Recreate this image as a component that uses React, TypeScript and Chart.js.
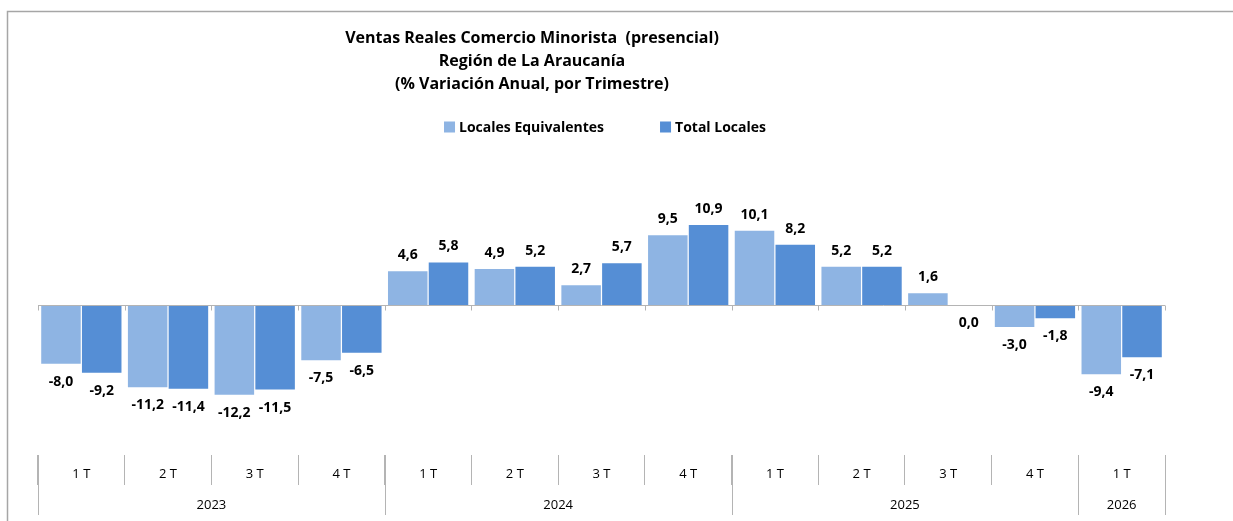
import React, { useEffect, useRef } from 'react';
import { Chart, registerables } from 'chart.js';

Chart.register(...registerables);

const quarters = ['1 T', '2 T', '3 T', '4 T', '1 T', '2 T', '3 T', '4 T', '1 T', '2 T', '3 T', '4 T', '1 T'];
const quarterYears = ['2023', '2023', '2023', '2023', '2024', '2024', '2024', '2024', '2025', '2025', '2025', '2025', '2026'];
const localesEquivalentes = [-8.0, -11.2, -12.2, -7.5, 4.6, 4.9, 2.7, 9.5, 10.1, 5.2, 1.6, -3.0, -9.4];
const totalLocales = [-9.2, -11.4, -11.5, -6.5, 5.8, 5.2, 5.7, 10.9, 8.2, 5.2, 0.0, -1.8, -7.1];
const seriesNames = ['Locales Equivalentes', 'Total Locales'];
const titleLines = [
  'Ventas Reales Comercio Minorista  (presencial)',
  'Región de La Araucanía',
  '(% Variación Anual, por Trimestre)',
];

const COLORS = ['#8EB4E3', '#558ED5'];
const FONT = '"Open Sans", Lato, sans-serif';
const GRAY = '#b4b4b4';

const fmt = (v: number) => v.toFixed(1).replace('.', ',');

const framePlugin = {
  id: 'frame',
  beforeDraw(chart: any) {
    const { ctx, width, height } = chart;
    ctx.save();
    ctx.fillStyle = '#ffffff';
    ctx.fillRect(0, 0, width, height);
    ctx.strokeStyle = '#a6a6a6';
    ctx.lineWidth = 1.5;
    ctx.beginPath();
    ctx.moveTo(7.5, height);
    ctx.lineTo(7.5, 11.5);
    ctx.lineTo(width, 11.5);
    ctx.stroke();
    ctx.restore();
  },
};

function boundaries(chart: any) {
  const xs = chart.scales.x;
  const n = quarters.length;
  const half = (xs.getPixelForValue(1) - xs.getPixelForValue(0)) / 2;
  const b: number[] = [];
  for (let i = 0; i < n; i++) b.push(xs.getPixelForValue(i) - half);
  b.push(xs.getPixelForValue(n - 1) + half);
  return b;
}

const axisPlugin = {
  id: 'zeroAxis',
  afterDatasetsDraw(chart: any) {
    const { ctx, chartArea } = chart;
    const ys = chart.scales.y;
    const y0 = Math.round(ys.getPixelForValue(0)) + 0.5;
    const b = boundaries(chart);
    ctx.save();
    ctx.strokeStyle = GRAY;
    ctx.lineWidth = 1;
    ctx.beginPath();
    ctx.moveTo(b[0], y0);
    ctx.lineTo(b[b.length - 1], y0);
    b.forEach((x) => {
      const px = Math.round(x) + 0.5;
      ctx.moveTo(px, y0);
      ctx.lineTo(px, y0 + 5);
    });
    ctx.stroke();

    // data labels
    ctx.fillStyle = '#000000';
    ctx.font = `bold 14px ${FONT}`;
    ctx.textAlign = 'center';
    ctx.textBaseline = 'middle';
    chart.data.datasets.forEach((ds: any, di: number) => {
      const meta = chart.getDatasetMeta(di);
      meta.data.forEach((el: any, i: number) => {
        const v = ds.data[i];
        const y = v > 0 ? el.y - 16 : el.y + 18;
        ctx.fillText(fmt(v), el.x, y);
      });
    });

    // year groups
    const bottom = chartArea.bottom;
    ctx.strokeStyle = GRAY;
    ctx.beginPath();
    let start = 0;
    const groups: { s: number; e: number; label: string }[] = [];
    for (let i = 1; i <= quarterYears.length; i++) {
      if (i === quarterYears.length || quarterYears[i] !== quarterYears[start]) {
        groups.push({ s: start, e: i, label: quarterYears[start] });
        start = i;
      }
    }
    groups.forEach((g) => {
      [b[g.s], b[g.e]].forEach((x) => {
        const px = Math.round(x) + 0.5;
        ctx.moveTo(px, bottom);
        ctx.lineTo(px, bottom + 60);
      });
    });
    ctx.stroke();
    ctx.font = `13px ${FONT}`;
    ctx.fillStyle = '#000000';
    groups.forEach((g) => {
      ctx.fillText(g.label, (b[g.s] + b[g.e]) / 2, bottom + 50);
    });

    // title
    ctx.font = `bold 16px ${FONT}`;
    titleLines.forEach((t, i) => {
      ctx.fillText(t, 532, 38 + i * 23);
    });

    // legend
    ctx.font = `bold 14px ${FONT}`;
    const box = 11;
    const gap = 4;
    const itemGap = 56;
    const widths = seriesNames.map((s) => box + gap + ctx.measureText(s).width);
    const total = widths.reduce((a, c) => a + c, 0) + itemGap * (seriesNames.length - 1);
    let x = 605 - total / 2;
    const ly = 127;
    ctx.textAlign = 'left';
    seriesNames.forEach((s, i) => {
      ctx.fillStyle = COLORS[i];
      ctx.fillRect(x, ly - box / 2, box, box);
      ctx.fillStyle = '#000000';
      ctx.fillText(s, x + box + gap, ly + 1);
      x += widths[i] + itemGap;
    });
    ctx.restore();
  },
};

export default function App() {
  const ref = useRef<HTMLCanvasElement | null>(null);
  useEffect(() => {
    if (!ref.current) return;
    const chart = new Chart(ref.current, {
      type: 'bar',
      data: {
        labels: quarters,
        datasets: [
          {
            label: seriesNames[0],
            data: localesEquivalentes,
            backgroundColor: COLORS[0],
            categoryPercentage: 0.94,
            barPercentage: 0.97,
          },
          {
            label: seriesNames[1],
            data: totalLocales,
            backgroundColor: COLORS[1],
            categoryPercentage: 0.94,
            barPercentage: 0.97,
          },
        ],
      },
      options: {
        responsive: false,
        animation: false,
        layout: { padding: { left: 38, right: 68, top: 158, bottom: 0 } },
        plugins: {
          legend: { display: false },
          title: { display: false },
          tooltip: { enabled: false },
        },
        scales: {
          x: {
            afterFit: (s: any) => {
              s.height = 66;
            },
            grid: {
              drawOnChartArea: false,
              drawTicks: true,
              tickLength: 30,
              color: GRAY,
              offset: true,
            },
            border: { display: false },
            ticks: {
              padding: -19,
              color: '#000000',
              font: { family: FONT, size: 13 },
              maxRotation: 0,
              autoSkip: false,
            },
          },
          y: {
            display: false,
            min: -20.4,
            max: 20,
          },
        },
      },
      plugins: [framePlugin, axisPlugin],
    });
    return () => chart.destroy();
  }, []);
  return (
    <div style={{ position: 'fixed', left: 0, top: 0, width: 1233, height: 521 }}>
      <canvas ref={ref} width={1233} height={521} />
    </div>
  );
}
